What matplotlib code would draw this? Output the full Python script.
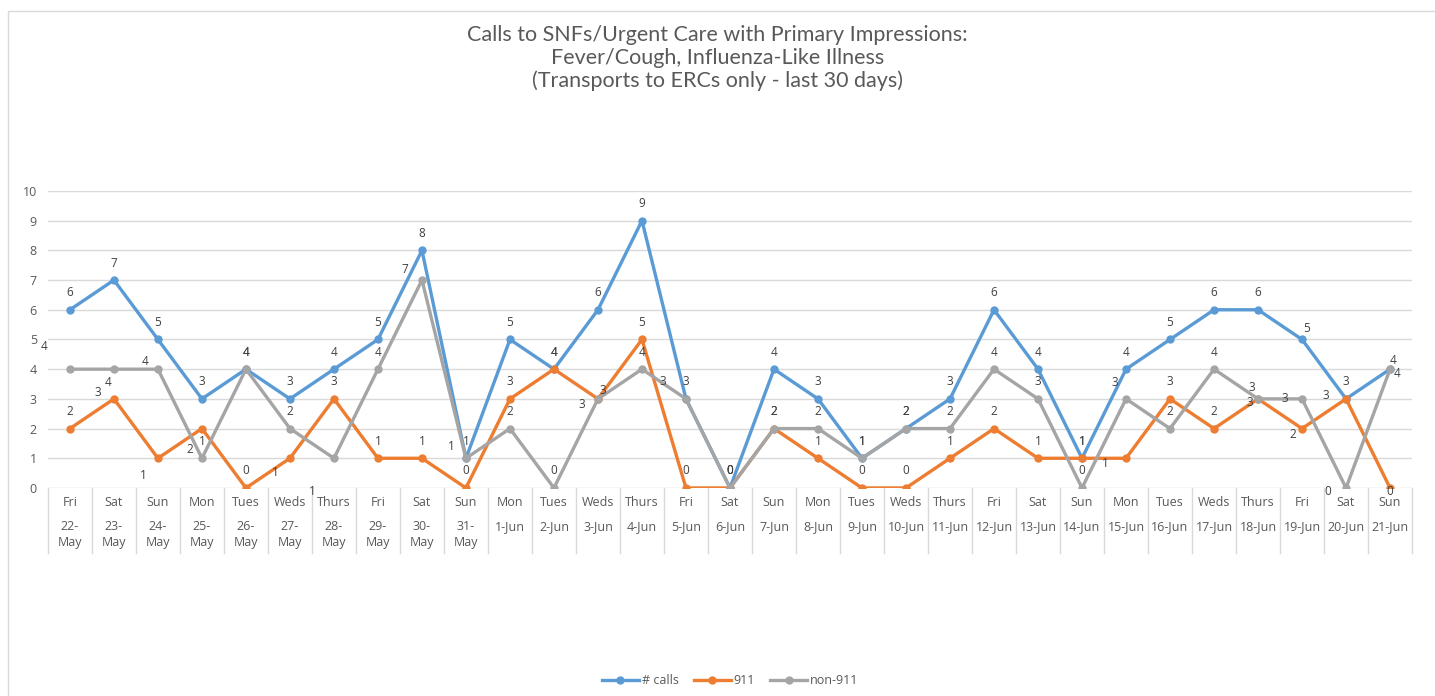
import matplotlib
matplotlib.use("Agg")
import matplotlib.pyplot as plt
import matplotlib.transforms as mtransforms
from matplotlib.patches import Rectangle

# ---- data ----
day_names = ["Fri", "Sat", "Sun", "Mon", "Tues", "Weds", "Thurs", "Fri", "Sat", "Sun",
             "Mon", "Tues", "Weds", "Thurs", "Fri", "Sat", "Sun", "Mon", "Tues", "Weds",
             "Thurs", "Fri", "Sat", "Sun", "Mon", "Tues", "Weds", "Thurs", "Fri", "Sat", "Sun"]
dates = ["22-May", "23-May", "24-May", "25-May", "26-May", "27-May", "28-May", "29-May",
         "30-May", "31-May", "1-Jun", "2-Jun", "3-Jun", "4-Jun", "5-Jun", "6-Jun", "7-Jun",
         "8-Jun", "9-Jun", "10-Jun", "11-Jun", "12-Jun", "13-Jun", "14-Jun", "15-Jun",
         "16-Jun", "17-Jun", "18-Jun", "19-Jun", "20-Jun", "21-Jun"]
calls = [6, 7, 5, 3, 4, 3, 4, 5, 8, 1, 5, 4, 6, 9, 3, 0, 4, 3, 1, 2, 3, 6, 4, 1, 4, 5, 6, 6, 5, 3, 4]
calls_911 = [2, 3, 1, 2, 0, 1, 3, 1, 1, 0, 3, 4, 3, 5, 0, 0, 2, 1, 0, 0, 1, 2, 1, 1, 1, 3, 2, 3, 2, 3, 0]
calls_non911 = [4, 4, 4, 1, 4, 2, 1, 4, 7, 1, 2, 0, 3, 4, 3, 0, 2, 2, 1, 2, 2, 4, 3, 0, 3, 2, 4, 3, 3, 0, 4]

title = ("Calls to SNFs/Urgent Care with Primary Impressions:\n"
         "Fever/Cough, Influenza-Like Illness\n"
         "(Transports to ERCs only - last 30 days)")

series = [
    ("# calls", calls, "#5B9BD5"),
    ("911", calls_911, "#ED7D31"),
    ("non-911", calls_non911, "#A5A5A5"),
]

# data label offsets (pixels) where Excel didn't put the label straight above
label_default = (0, 17)
label_offsets = {
    ("911", 1): (-16, 6), ("911", 2): (-15, -17), ("911", 3): (-12, -21),
    ("911", 5): (-15, -14), ("911", 12): (5, 8), ("911", 24): (-21, -5),
    ("911", 27): (-8, -4), ("911", 28): (-9, -6), ("911", 29): (-20, 3),
    ("911", 30): (0, -4),
    ("non-911", 0): (-26, 23), ("non-911", 1): (-6, -13), ("non-911", 2): (-13, 8),
    ("non-911", 6): (-22, -33), ("non-911", 8): (-17, 11), ("non-911", 9): (-15, 12),
    ("non-911", 12): (-16, -6), ("non-911", 14): (-23, 17), ("non-911", 24): (-11, 16),
    ("non-911", 27): (-6, 11), ("non-911", 28): (-17, 0), ("non-911", 29): (-18, -4),
    ("non-911", 30): (7, -4),
    ("# calls", 28): (5, 11), ("# calls", 30): (3, 9),
}

text_color = "#595959"
plt.rcParams["font.family"] = ["Open Sans", "DejaVu Sans"]

fig = plt.figure(figsize=(14.35, 6.96), dpi=100)
ax = fig.add_axes([0.0334, 0.2989, 0.9506, 0.4267])

# chart border (only top and left edge are visible in the screenshot)
fig.patches.append(Rectangle((8 / 1435, -0.5), 2, 1.5 - 11 / 696, transform=fig.transFigure,
                             fill=False, edgecolor="#D9D9D9", linewidth=1))

x = list(range(len(dates)))
for name, vals, color in series:
    ax.plot(x, vals, color=color, linewidth=2.4, marker="o", markersize=5, label=name,
            solid_joinstyle="round", zorder=3)
    for i, v in enumerate(vals):
        dx, dy = label_offsets.get((name, i), label_default)
        ax.annotate(str(v), (i, v), xytext=(dx * 0.72, dy * 0.72), textcoords="offset points",
                    ha="center", va="center", fontsize=8.5, color="#404040", zorder=4)

ax.set_xlim(-0.5, len(dates) - 0.5)
ax.set_ylim(0, 10)
ax.set_yticks(range(11))
ax.grid(axis="y", color="#D9D9D9", linewidth=1)
ax.set_axisbelow(True)
for s in ax.spines.values():
    s.set_visible(False)
ax.tick_params(axis="y", length=0, pad=8, labelsize=9, labelcolor=text_color)
ax.set_xticks([])

# category labels with separators below the axis
trans = mtransforms.blended_transform_factory(ax.transData, ax.transAxes)
for i, (d, dt) in enumerate(zip(day_names, dates)):
    ax.text(i, -0.05, d, transform=trans, ha="center", va="center", fontsize=9, color=text_color)
    if dt.endswith("May"):
        day, mon = dt.split("-")
        ax.text(i, -0.131, day + "-", transform=trans, ha="center", va="center", fontsize=9, color=text_color)
        ax.text(i, -0.185, mon, transform=trans, ha="center", va="center", fontsize=9, color=text_color)
    else:
        ax.text(i, -0.131, dt, transform=trans, ha="center", va="center", fontsize=9, color=text_color)
for b in range(len(dates) + 1):
    ax.plot([b - 0.5, b - 0.5], [0, -0.219], transform=trans, color="#D9D9D9", linewidth=1, clip_on=False)

fig.text(0.5, 1 - 58 / 696, title, ha="center", va="center", fontsize=15.5, color=text_color,
         linespacing=1.14, family=["Lato", "DejaVu Sans"])

fig.legend(loc="center", bbox_to_anchor=(730 / 1435, 1 - 681 / 696), ncol=3, frameon=False,
           fontsize=9, labelcolor=text_color, handlelength=3, columnspacing=1.2, handletextpad=0.2)

fig.savefig("out.png", dpi=100, facecolor="white")
